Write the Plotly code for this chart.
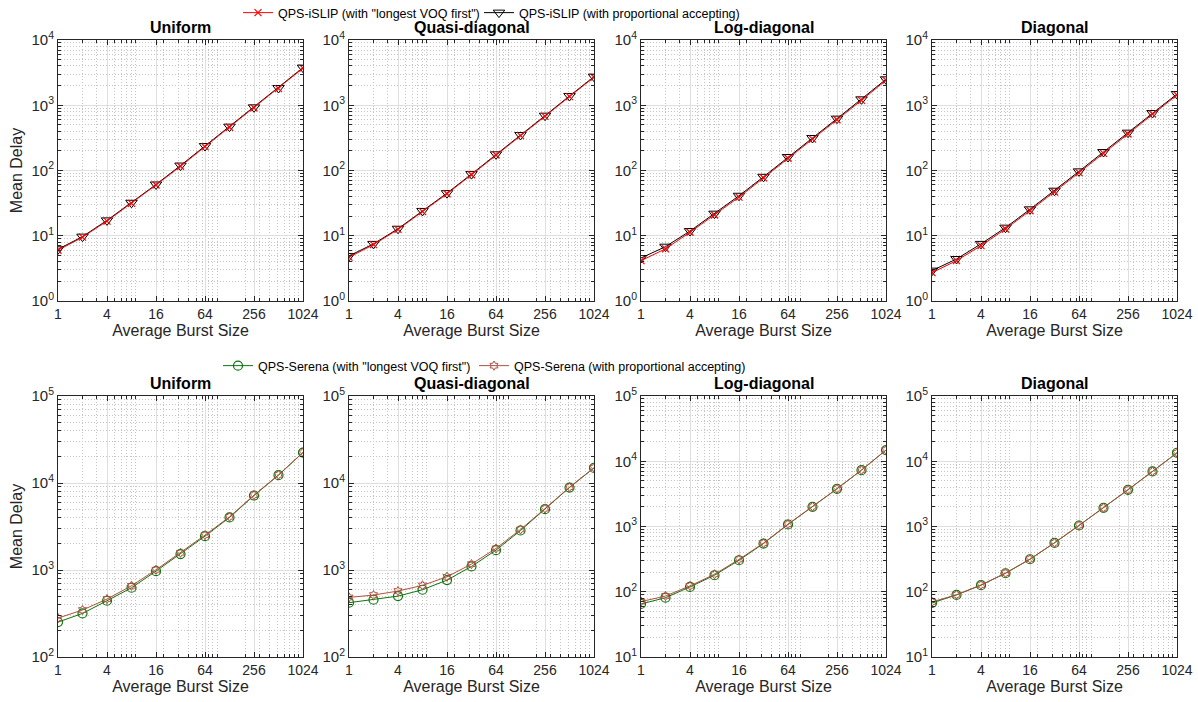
import plotly.graph_objects as go

W, H = 1198, 702

burst = [1, 2, 4, 8, 16, 32, 64, 128, 256, 512, 1024]
titles = ["Uniform", "Quasi-diagonal", "Log-diagonal", "Diagonal"]

# Top row: QPS-iSLIP
islip_lvf = {
    "Uniform":        [6.0, 9.5, 16.8, 31.3, 60, 116, 232, 460, 910, 1800, 3700],
    "Quasi-diagonal": [4.7, 7.3, 12.5, 23.4, 44, 86, 173, 342, 677, 1357, 2690],
    "Log-diagonal":   [4.15, 6.3, 11.3, 20.8, 39, 77, 154, 303, 600, 1190, 2420],
    "Diagonal":       [2.72, 4.15, 7.05, 12.7, 24.2, 46.8, 92.7, 183, 362, 734, 1436],
}
islip_prop = {
    "Uniform":        [6.2, 9.7, 17.2, 32, 61, 119, 237, 470, 929, 1838, 3770],
    "Quasi-diagonal": [4.9, 7.5, 12.8, 24, 45, 88, 177, 350, 692, 1387, 2742],
    "Log-diagonal":   [4.56, 6.8, 11.8, 21.8, 41, 80, 161, 315, 623, 1232, 2496],
    "Diagonal":       [2.92, 4.4, 7.5, 13.3, 25.4, 49, 97, 192, 380, 760, 1487],
}
# Bottom row: QPS-Serena
serena_lvf = {
    "Uniform":        [252, 317, 443, 625, 970, 1524, 2450, 4018, 7180, 12300, 22400],
    "Quasi-diagonal": [421, 455, 501, 593, 765, 1099, 1691, 2845, 5000, 8870, 14900],
    "Log-diagonal":   [65, 81, 118.6, 179, 304, 548, 1074, 2004, 3784, 7310, 14830],
    "Diagonal":       [67.4, 89.4, 126, 192, 315, 561, 1036, 1931, 3653, 6980, 13490],
}
serena_prop = {
    "Uniform":        [280, 347, 463, 659, 1006, 1578, 2517, 4085, 7250, 12400, 22500],
    "Quasi-diagonal": [484, 515, 573, 665, 836, 1169, 1770, 2923, 5080, 8950, 15000],
    "Log-diagonal":   [70.6, 86, 123, 185, 313, 556, 1085, 2020, 3800, 7330, 14850],
    "Diagonal":       [69.8, 90, 127, 193, 317, 563, 1040, 1936, 3660, 6990, 13500],
}

x_ticks = [1, 4, 16, 64, 256, 1024]
top_yrange = [0, 4]
bot_yranges = [[2, 5], [2, 5], [1, 5], [1, 5]]

RED = "#ff0000"
BLACK = "#000000"
GREEN = "#0b750b"
BROWN = "#b0503f"

FONT = "Liberation Sans, Arial, Helvetica, sans-serif"
AXC = "#262626"
GRID = "#dfdfdf"
MGRID = "#c4c4c4"

col_px = [(58, 303), (349, 594), (641, 886), (932, 1177)]
top_px = (40, 301)
bot_px = (396, 657)

fig = go.Figure()
layout = {}

minor_x = sorted(set([v * 10 ** e for e in range(0, 4) for v in range(2, 10) if v * 10 ** e <= 1024]))


def ydom(p):
    return [1 - p[1] / H, 1 - p[0] / H]


ax_i = 0
for row in range(2):
    for c, t in enumerate(titles):
        ax_i += 1
        xa = "xaxis" if ax_i == 1 else f"xaxis{ax_i}"
        ya = "yaxis" if ax_i == 1 else f"yaxis{ax_i}"
        xr = "x" if ax_i == 1 else f"x{ax_i}"
        yr = "y" if ax_i == 1 else f"y{ax_i}"
        yrange = top_yrange if row == 0 else bot_yranges[c]
        ytv = [10 ** k for k in range(yrange[0], yrange[1] + 1)]
        ytt = [f"10<sup>{k}</sup>" for k in range(yrange[0], yrange[1] + 1)]
        minor_y = [v * 10 ** e for e in range(yrange[0], yrange[1]) for v in range(2, 10)]
        layout[xa] = dict(
            domain=[col_px[c][0] / W, col_px[c][1] / W], anchor=yr,
            type="log", range=[0, 3.0103], tickvals=x_ticks,
            ticktext=[str(v) for v in x_ticks],
            showline=True, linecolor=AXC, linewidth=1, mirror="ticks",
            ticks="inside", ticklen=5, tickcolor=AXC,
            showgrid=True, gridcolor=GRID, gridwidth=1, zeroline=False,
            tickfont=dict(size=14, color=AXC, family=FONT), automargin=False,
            title=dict(text="Average Burst Size", font=dict(size=16, color=AXC, family=FONT), standoff=4),
            minor=dict(tickmode="array", tickvals=minor_x, showgrid=True, gridcolor=MGRID,
                       griddash="1px,2px", ticks="inside", ticklen=3, tickcolor=AXC),
        )
        layout[ya] = dict(
            domain=ydom(top_px if row == 0 else bot_px), anchor=xr,
            type="log", range=yrange, tickvals=ytv, ticktext=ytt,
            showline=True, linecolor=AXC, linewidth=1, mirror="ticks",
            ticks="inside", ticklen=5, tickcolor=AXC,
            showgrid=True, gridcolor=GRID, gridwidth=1, zeroline=False,
            tickfont=dict(size=15, color=AXC, family=FONT), automargin=False,
            minor=dict(tickmode="array", tickvals=minor_y, showgrid=True, gridcolor=MGRID,
                       griddash="1px,2px", ticks="inside", ticklen=3, tickcolor=AXC),
        )
        if c == 0:
            layout[ya]["title"] = dict(text="Mean Delay", font=dict(size=16, color=AXC, family=FONT), standoff=4)

        first = (c == 0)
        if row == 0:
            fig.add_trace(go.Scatter(
                x=burst, y=islip_prop[t], xaxis=xr, yaxis=yr, mode="lines+markers",
                name="QPS-iSLIP (with proportional accepting)", legend="legend3",
                legendgroup="ip", showlegend=first,
                line=dict(color=BLACK, width=1),
                marker=dict(symbol="triangle-down-open", size=10, color=BLACK, line=dict(width=1))))
            fig.add_trace(go.Scatter(
                x=burst, y=islip_lvf[t], xaxis=xr, yaxis=yr, mode="lines+markers",
                name='QPS-iSLIP (with "longest VOQ first")', legend="legend",
                legendgroup="il", showlegend=first,
                line=dict(color=RED, width=1),
                marker=dict(symbol="x-thin-open", size=7, color=RED, line=dict(width=1.2, color=RED))))
        else:
            fig.add_trace(go.Scatter(
                x=burst, y=serena_lvf[t], xaxis=xr, yaxis=yr, mode="lines+markers",
                name='QPS-Serena (with "longest VOQ first")', legend="legend2",
                legendgroup="sl", showlegend=first,
                line=dict(color=GREEN, width=1),
                marker=dict(symbol="circle-open", size=9, color=GREEN, line=dict(width=1.2))))
            fig.add_trace(go.Scatter(
                x=burst, y=serena_prop[t], xaxis=xr, yaxis=yr, mode="lines+markers",
                name="QPS-Serena (with proportional accepting)", legend="legend4",
                legendgroup="sp", showlegend=first,
                line=dict(color=BROWN, width=1),
                marker=dict(symbol="hexagram-open", size=7, color=BROWN, line=dict(width=1))))

annotations = []
for row, py in enumerate([top_px, bot_px]):
    for c, t in enumerate(titles):
        annotations.append(dict(
            text=f"<b>{t}</b>", xref="paper", yref="paper",
            x=(col_px[c][0] + col_px[c][1]) / 2 / W, y=1 - (py[0] - 2) / H,
            xanchor="center", yanchor="bottom", showarrow=False,
            font=dict(size=16, color="#000000", family=FONT)))


def leg(xpx, ypx):
    return dict(orientation="h", x=xpx / W, y=1 - ypx / H, xanchor="left", yanchor="middle",
                bgcolor="rgba(0,0,0,0)", font=dict(size=12.5, family=FONT, color="#000000"),
                itemwidth=30, borderwidth=0)


fig.update_layout(
    width=W, height=H, margin=dict(l=0, r=0, t=0, b=0, autoexpand=False),
    paper_bgcolor="white", plot_bgcolor="white",
    font=dict(family=FONT, color=AXC),
    annotations=annotations,
    legend=leg(238, 13),
    legend3=leg(479, 13),
    legend2=leg(218, 366),
    legend4=leg(474, 366),
    showlegend=True,
    **layout,
)

fig.write_html("out.html")
